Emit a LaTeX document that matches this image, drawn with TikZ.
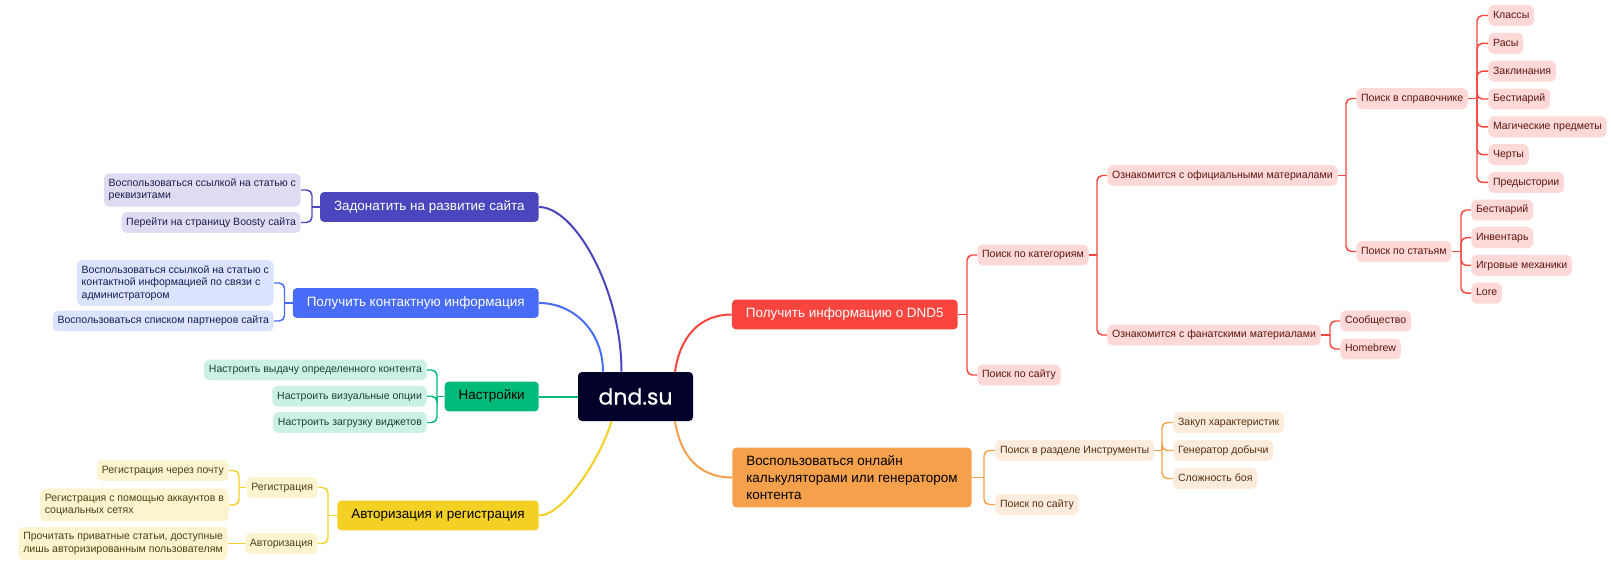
\documentclass[tikz,border=0pt]{standalone}
\usepackage{fontspec}
\setmainfont{Liberation Sans}
\newfontfamily\logofont[FakeBold=0.6]{Poppins}
\usetikzlibrary{calc,positioning}

\definecolor{rootm}{HTML}{01012A}
\definecolor{donm}{HTML}{4B46BE}
\definecolor{donl}{HTML}{DEDCF2}
\definecolor{dont}{HTML}{1F1D4D}
\definecolor{conm}{HTML}{486CF8}
\definecolor{conl}{HTML}{DCE3FE}
\definecolor{cont}{HTML}{142050}
\definecolor{setm}{HTML}{00BA7A}
\definecolor{setl}{HTML}{CBF1E3}
\definecolor{sett}{HTML}{174436}
\definecolor{autm}{HTML}{F2D024}
\definecolor{autl}{HTML}{FCF4CF}
\definecolor{autt}{HTML}{4D4112}
\definecolor{infm}{HTML}{FA453E}
\definecolor{infl}{HTML}{FFD9D7}
\definecolor{inft}{HTML}{5C1512}
\definecolor{clcm}{HTML}{F5A04B}
\definecolor{clcl}{HTML}{FDEBDB}
\definecolor{clct}{HTML}{533112}

\begin{document}
\begin{tikzpicture}[x=0.75pt,y=-0.75pt,
mn/.style={fill=#1m, rounded corners=3pt, inner xsep=10.5pt, inner ysep=6.25pt, text height=7.5pt, text depth=2.3pt, font=\fontsize{10.1}{12.5}\selectfont},
lf/.style={fill=#1l, text=#1t, rounded corners=4pt, inner xsep=3.6pt, inner ysep=3.9pt, text height=6.1pt, text depth=1.8pt, font=\fontsize{7.9}{9.15}\selectfont},
lfm/.style={fill=#1l, text=#1t, rounded corners=4pt, inner xsep=3.6pt, inner ysep=4.2pt, align=left, font=\fontsize{7.9}{9.15}\selectfont},
br/.style={draw=#1m, line width=1.1pt, rounded corners=4pt},
cv/.style={draw=#1m, line width=1.5pt}]
\useasboundingbox (0,0) rectangle (1611,581);
\node[fill=rootm, text=white, rounded corners=3pt, minimum width=86.25pt, minimum height=36.75pt, font=\logofont\fontsize{16.5}{18}\selectfont] (root) at (635.5,396.5) {dnd.su};

%% main branches
\node[mn=don, text=white, anchor=east] (don) at (539,207) {Задонатить на развитие сайта};
\node[mn=con, text=white, anchor=east] (con) at (539,303) {Получить контактную информация};
\node[mn=set, text=black, anchor=east] (set) at (539,396.5) {Настройки};
\node[mn=aut, text=black, anchor=east] (aut) at (539,515.5) {Авторизация и регистрация};
\node[mn=inf, text=white, anchor=west] (inf) at (731.7,314.5) {Получить информацию о DND5};
\node[fill=clcm, text=black, rounded corners=3pt, inner xsep=10.5pt, inner ysep=6.1pt, align=left, font=\fontsize{10.1}{12.5}\selectfont, anchor=west] (clc) at (732,477.5) {Воспользоваться онлайн\\калькуляторами или генератором\\контента};

\draw[cv=don] (don.east) .. controls +(36,0) and +(0,-82) .. ([shift={(-14,0)}]root.north);
\draw[cv=con] (con.east) .. controls +(35,0) and +(0,-40) .. ([shift={(-32.5,0)}]root.north);
\draw[cv=set] (set.east) -- (root.west);
\draw[cv=aut] ([shift={(-24,0)}]root.south) .. controls +(-10,35) and +(25,0) .. (aut.east);
\draw[cv=inf] ([shift={(39.5,0)}]root.north) .. controls +(5,-35) and +(-32,0) .. (inf.west);
\draw[cv=clc] ([shift={(39.5,0)}]root.south) .. controls +(5,32) and +(-35,0) .. (clc.west);

%% donate
\node[lfm=don, anchor=east] (d1) at (301,190) {Воспользоваться ссылкой на статью с\\реквизитами};
\node[lf=don, anchor=east] (d2) at (301,222.5) {Перейти на страницу Boosty сайта};
\draw[br=don] (don.west) -- ($(don.west -| d1.east)+(11,0)$) coordinate (jd);
\foreach \k in {1,2} \draw[br=don] (jd) |- (d\k.east);

%% contact
\node[lfm=con, anchor=east] (c1) at (274,283) {Воспользоваться ссылкой на статью с\\контактной информацией по связи с\\администратором};
\node[lf=con, anchor=east] (c2) at (274,321) {Воспользоваться списком партнеров сайта};
\draw[br=con] (con.west) -- ($(con.west -| c1.east)+(10.5,0)$) coordinate (jc);
\foreach \k in {1,2} \draw[br=con] (jc) |- (c\k.east);

%% settings
\foreach \t [count=\k] in {Настроить выдачу определенного контента,Настроить визуальные опции,Настроить загрузку виджетов}
  \node[lf=set, anchor=east] (s\k) at (427,{370+26.25*(\k-1)}) {\t};
\draw[br=set] (set.west) -- ($(set.west -| s1.east)+(10,0)$) coordinate (js);
\foreach \k in {1,2,3} \draw[br=set] (js) |- (s\k.east);

%% auth
\node[lf=aut, anchor=east] (a1) at (318,487.5) {Регистрация};
\node[lf=aut, anchor=east] (a2) at (318,543.5) {Авторизация};
\draw[br=aut] (aut.west) -- ($(aut.west -| a1.east)+(10,0)$) coordinate (ja);
\foreach \k in {1,2} \draw[br=aut] (ja) |- (a\k.east);
\node[lf=aut, anchor=east] (r1) at (229,470.5) {Регистрация через почту};
\node[lfm=aut, anchor=east] (r2) at (229,505) {Регистрация с помощью аккаунтов в\\социальных сетях};
\draw[br=aut] (a1.west) -- ($(a1.west -| r1.east)+(10,0)$) coordinate (jr);
\foreach \k in {1,2} \draw[br=aut] (jr) |- (r\k.east);
\node[lfm=aut, anchor=east] (l1) at (228,543.5) {Прочитать приватные статьи, доступные\\лишь авторизированным пользователям};
\draw[br=aut] (a2.west) -- (l1.east);

%% info dnd5
\node[lf=inf, anchor=west] (i1) at (977,255) {Поиск по категориям};
\node[lf=inf, anchor=west] (i2) at (977,375) {Поиск по сайту};
\draw[br=inf] (inf.east) -- ($(inf.east -| i1.west)+(-10,0)$) coordinate (ji);
\foreach \k in {1,2} \draw[br=inf] (ji) |- (i\k.west);
\node[lf=inf, anchor=west] (o1) at (1107,175.5) {Ознакомится с официальными материалами};
\node[lf=inf, anchor=west] (o2) at (1107,335) {Ознакомится с фанатскими материалами};
\draw[br=inf] (i1.east) -- ($(i1.east -| o1.west)+(-10,0)$) coordinate (jo);
\foreach \k in {1,2} \draw[br=inf] (jo) |- (o\k.west);
\node[lf=inf, anchor=west] (p1) at (1356,98.5) {Поиск в справочнике};
\node[lf=inf, anchor=west] (p2) at (1356,251.5) {Поиск по статьям};
\draw[br=inf] (o1.east) -- ($(o1.east -| p1.west)+(-10,0)$) coordinate (jp);
\foreach \k in {1,2} \draw[br=inf] (jp) |- (p\k.west);
\foreach \t [count=\k] in {Классы,Расы,Заклинания,Бестиарий,Магические предметы,Черты,Предыстории}
  \node[lf=inf, anchor=west] (q\k) at (1488,{15.5+27.83*(\k-1)}) {\t};
\draw[br=inf] (p1.east) -- ($(p1.east -| q1.west)+(-11,0)$) coordinate (jq);
\foreach \k in {1,...,7} \draw[br=inf] (jq) |- (q\k.west);
\foreach \t [count=\k] in {Бестиарий,Инвентарь,Игровые механики,Lore}
  \node[lf=inf, anchor=west] (u\k) at (1471,{210+27.7*(\k-1)}) {\t};
\draw[br=inf] (p2.east) -- ($(p2.east -| u1.west)+(-10,0)$) coordinate (ju);
\foreach \k in {1,...,4} \draw[br=inf] (ju) |- (u\k.west);
\node[lf=inf, anchor=west] (f1) at (1340,321) {Сообщество};
\node[lf=inf, anchor=west] (f2) at (1340,349) {Homebrew};
\draw[br=inf] (o2.east) -- ($(o2.east -| f1.west)+(-10,0)$) coordinate (jf);
\foreach \k in {1,2} \draw[br=inf] (jf) |- (f\k.west);

%% calculators
\node[lf=clc, anchor=west] (k1) at (995,450.5) {Поиск в разделе Инструменты};
\node[lf=clc, anchor=west] (k2) at (995,504.5) {Поиск по сайту};
\draw[br=clc] (clc.east) -- ($(clc.east -| k1.west)+(-11,0)$) coordinate (jk);
\foreach \k in {1,2} \draw[br=clc] (jk) |- (k\k.west);
\foreach \t [count=\k] in {Закуп характеристик,Генератор добычи,Сложность боя}
  \node[lf=clc, anchor=west] (g\k) at (1173,{422.5+28*(\k-1)}) {\t};
\draw[br=clc] (k1.east) -- ($(k1.east -| g1.west)+(-11,0)$) coordinate (jg);
\foreach \k in {1,2,3} \draw[br=clc] (jg) |- (g\k.west);
\end{tikzpicture}
\end{document}
